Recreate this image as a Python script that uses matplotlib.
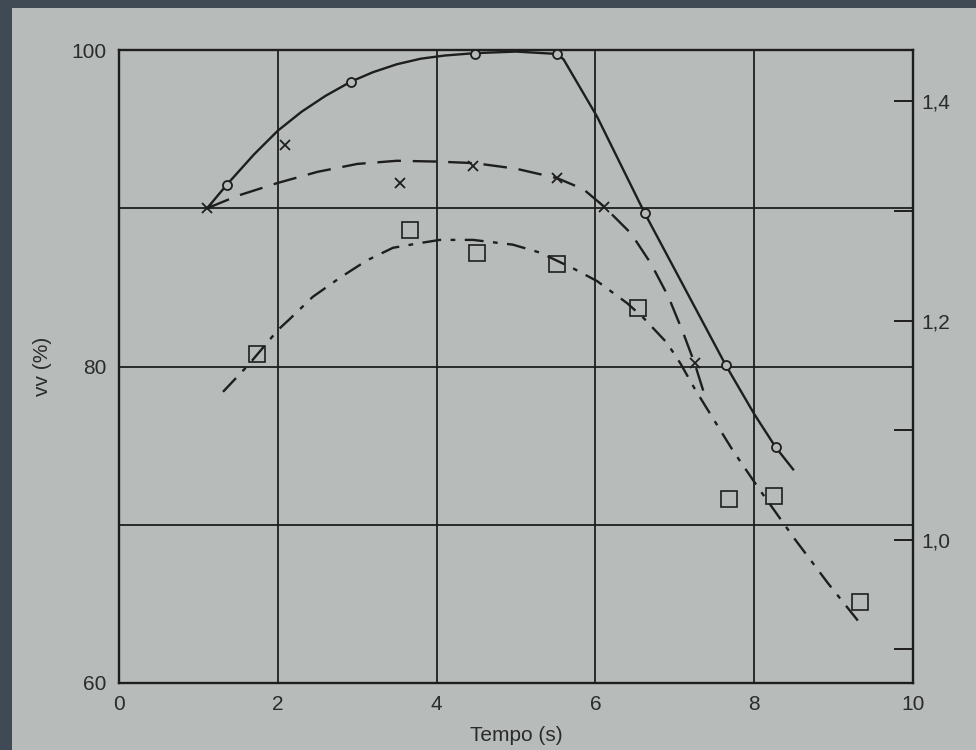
import matplotlib.pyplot as plt
from matplotlib.patches import Rectangle

plt.rcParams['font.family'] = ['Liberation Sans', 'DejaVu Sans']

# values
circ_t = [1.36, 2.92, 4.48, 5.52, 6.62, 7.64, 8.27]
circ_v = [91.5, 98.0, 99.75, 99.75, 89.7, 80.1, 74.9]
circ_curve_t = [1.11, 1.36, 1.7, 2.0, 2.3, 2.6, 2.92, 3.2, 3.5, 3.8, 4.1, 4.48, 5.0, 5.52,
                5.6, 6.02, 6.62, 7.64, 8.0, 8.27, 8.49]
circ_curve_v = [90.0, 91.5, 93.4, 94.9, 96.1, 97.1, 98.0, 98.6, 99.1, 99.45, 99.65, 99.8,
                99.9, 99.75, 99.4, 95.8, 89.7, 80.1, 77.0, 74.9, 73.5]

x_t = [1.11, 2.09, 3.54, 4.46, 5.52, 6.11, 7.25]
x_v = [90.0, 94.0, 91.6, 92.7, 91.9, 90.1, 80.2]
x_curve_t = [1.11, 1.5, 2.0, 2.5, 3.0, 3.5, 4.0, 4.48, 5.0, 5.52, 5.85, 6.11, 6.45, 6.7,
             6.92, 7.1, 7.25, 7.4]
x_curve_v = [90.0, 90.8, 91.6, 92.3, 92.8, 93.0, 92.95, 92.85, 92.5, 91.9, 91.2, 90.1, 88.4,
             86.5, 84.4, 82.2, 80.2, 77.8]

sq_t = [1.74, 3.66, 4.51, 5.52, 6.54, 7.68, 8.25, 9.33]
sq_v = [80.8, 88.6, 87.2, 86.5, 83.7, 71.6, 71.8, 65.1]
sq_curve_t = [1.31, 1.63, 2.0, 2.15, 2.44, 2.78, 3.12, 3.45, 3.79, 4.04, 4.46, 4.96, 5.3,
              5.72, 6.02, 6.4, 6.6, 6.9, 7.07, 7.25, 7.41, 7.73, 8.07, 8.51, 8.93, 9.36]
sq_curve_v = [78.4, 80.1, 82.3, 83.0, 84.4, 85.6, 86.7, 87.5, 87.8, 88.0, 88.0, 87.7, 87.2,
              86.2, 85.4, 84.0, 83.1, 81.5, 80.2, 78.6, 77.3, 74.7, 72.2, 69.1, 66.3, 63.6]

left_ticks = [60, 70, 80, 90, 100]
left_labels = ['60', '', '80', '', '100']
x_ticks = [0, 2, 4, 6, 8, 10]
right_ticks = [0.9, 1.0, 1.1, 1.2, 1.3, 1.4]
right_labels = ['', '1,0', '', '1,2', '', '1,4']

paper = '#b7bbba'
ink = '#1e1e1e'
txt = '#2b2b2b'

fig = plt.figure(figsize=(9.76, 7.5), dpi=100, facecolor='#3f4a55')
fig.patches.append(Rectangle((12 / 976, 0), 1, 1 - 8 / 750, transform=fig.transFigure,
                             facecolor=paper, edgecolor='none', zorder=-10))

ax = fig.add_axes([119 / 976, 67 / 750, 794 / 976, 633 / 750])
ax.set_facecolor(paper)
ax.set_xlim(0, 10)
ax.set_ylim(60, 100)
ax.set_xticks(x_ticks)
ax.set_yticks(left_ticks)
ax.set_yticklabels(left_labels)
ax.grid(True, color=ink, lw=1.3)
ax.tick_params(length=0, labelsize=15, labelcolor=txt, pad=9)
for s in ax.spines.values():
    s.set_color(ink)
    s.set_linewidth(1.7)

lw = 1.7
ax.plot(circ_curve_t, circ_curve_v, color=ink, lw=lw, zorder=3, clip_on=False)
ax.plot(x_curve_t, x_curve_v, color=ink, lw=lw, ls=(0, (10, 5)), zorder=3)
ax.plot(sq_curve_t, sq_curve_v, color=ink, lw=lw, ls=(0, (8, 4, 2, 4)), zorder=3)

ax.plot(circ_t, circ_v, 'o', ms=6.5, mfc=paper, mec=ink, mew=1.3, zorder=4, clip_on=False)
ax.plot(x_t, x_v, 'x', ms=7, mec=ink, mew=1.3, zorder=4)
ax.plot(sq_t, sq_v, 's', ms=12, mfc='none', mec=ink, mew=1.2, zorder=4)

ax.set_xlabel('Tempo (s)', fontsize=15, color=txt, labelpad=8)
ax.set_ylabel('vv (%)', fontsize=15, color=txt, labelpad=14)

ax2 = ax.twinx()
ax2.set_ylim(0.869, 1.447)
ax2.set_yticks(right_ticks)
ax2.set_yticklabels(right_labels)
ax2.tick_params(direction='in', length=14, width=1.4, color=ink,
                labelsize=15, labelcolor=txt, pad=6)
for s in ax2.spines.values():
    s.set_visible(False)

fig.savefig('out.png', dpi=100, facecolor=fig.get_facecolor())
